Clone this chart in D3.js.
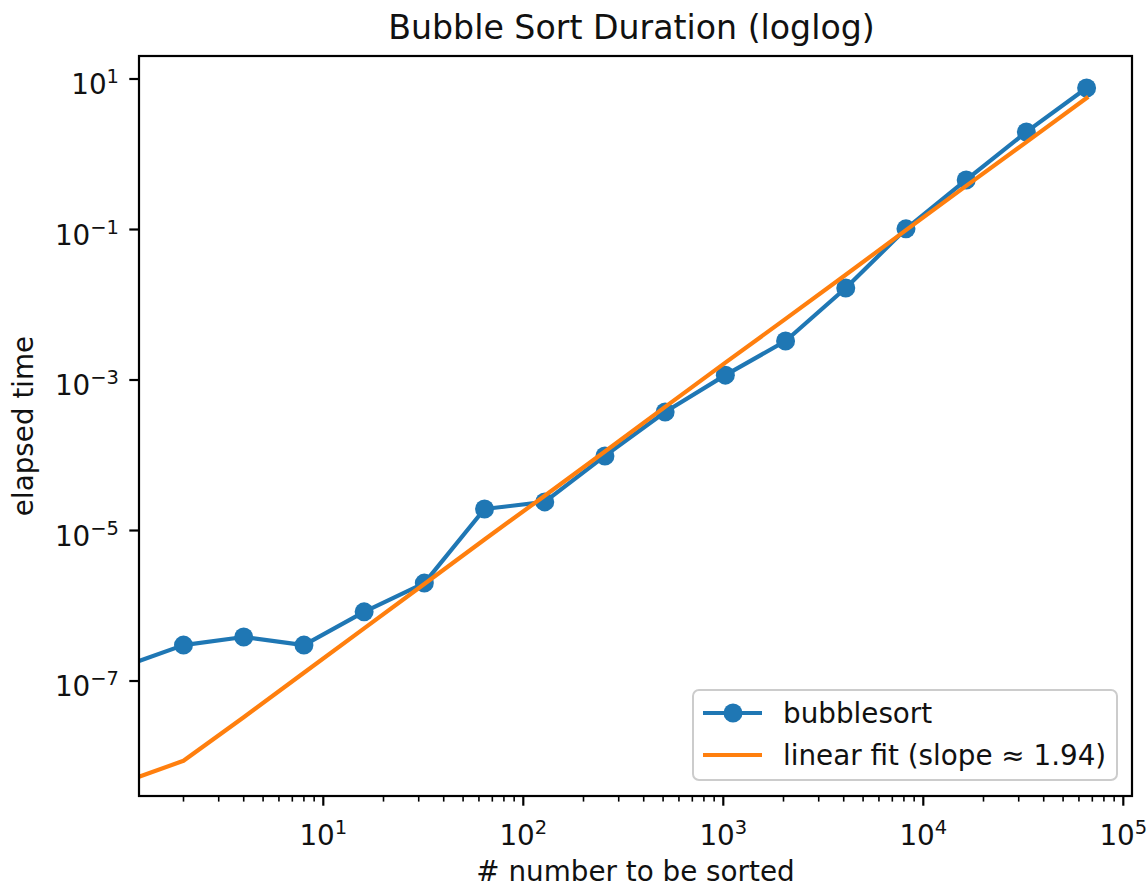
<!DOCTYPE html>
<html>
<head>
<meta charset="utf-8">
<script src="https://cdn.jsdelivr.net/npm/d3@7"></script>
<style>
  body { margin: 0; background: #fff; }
  text { font-family: "DejaVu Sans", sans-serif; fill: #111; }
</style>
</head>
<body>
<div id="chart"></div>
<script>
var width = 1147;
var height = 888;

// problem sizes (2^0 .. 2^16)
var sizes = [1, 2, 4, 8, 16, 32, 64, 128, 256, 512, 1024, 2048, 4096, 8192, 16384, 32768, 65536];
// measured elapsed time, seconds
var bubbleTimes = [1.55e-7, 3.0e-7, 3.85e-7, 3.0e-7, 8.3e-7, 2.0e-6, 1.93e-5, 2.4e-5, 9.8e-5,
                   3.76e-4, 1.16e-3, 3.3e-3, 1.67e-2, 0.102, 0.455, 1.98, 7.6];
// fitted line values
var fitTimes = [4.5e-9, 8.7e-9, 3.3e-8, 1.29e-7, 5.0e-7, 1.95e-6, 7.6e-6, 2.9e-5, 1.12e-4,
                4.4e-4, 1.7e-3, 6.5e-3, 2.5e-2, 9.8e-2, 0.38, 1.45, 5.6];
var xTickExps = [1, 2, 3, 4, 5];
var yTickExps = [1, -1, -3, -5, -7];
var seriesNames = ["bubblesort", "linear fit (slope \u2248 1.94)"];

var blue = "#1f77b4", orange = "#ff7f0e";
var axLeft = 139, axRight = 1132, axTop = 56, axBottom = 796;

var svg = d3.select("#chart").append("svg")
    .attr("width", width)
    .attr("height", height);

var x = d3.scaleLog()
    .domain([Math.pow(10, 0.0785), Math.pow(10, 5.0435)])
    .range([axLeft, axRight]);
var y = d3.scaleLog()
    .domain([Math.pow(10, -8.528), Math.pow(10, 1.3056)])
    .range([axBottom, axTop]);

svg.append("defs").append("clipPath")
    .attr("id", "clip")
    .append("rect")
    .attr("x", axLeft).attr("y", axTop)
    .attr("width", axRight - axLeft).attr("height", axBottom - axTop);

var plot = svg.append("g").attr("clip-path", "url(#clip)");

var line = d3.line()
    .x(function(d){ return x(d[0]); })
    .y(function(d){ return y(d[1]); });

plot.append("path")
    .datum(d3.zip(sizes, bubbleTimes))
    .attr("d", line)
    .attr("fill", "none")
    .attr("stroke", blue)
    .attr("stroke-width", 4.2)
    .attr("stroke-linejoin", "round")
    .attr("stroke-linecap", "square");

plot.selectAll("circle.pt")
    .data(d3.zip(sizes, bubbleTimes))
    .enter()
        .append("circle")
        .attr("class", "pt")
        .attr("cx", function(d){ return x(d[0]); })
        .attr("cy", function(d){ return y(d[1]); })
        .attr("r", 9.5)
        .attr("fill", blue);

plot.append("path")
    .datum(d3.zip(sizes, fitTimes))
    .attr("d", line)
    .attr("fill", "none")
    .attr("stroke", orange)
    .attr("stroke-width", 4.2)
    .attr("stroke-linejoin", "round")
    .attr("stroke-linecap", "square");

// x ticks: majors and minors
var xMinor = [];
for (var e = 0; e <= 5; e++) {
    for (var m = 2; m <= 9; m++) {
        var v = m * Math.pow(10, e);
        if (v > x.domain()[0] && v < x.domain()[1]) xMinor.push(v);
    }
}
svg.append("g").selectAll("line")
    .data(xMinor)
    .enter()
        .append("line")
        .attr("x1", function(d){ return x(d); })
        .attr("x2", function(d){ return x(d); })
        .attr("y1", axBottom)
        .attr("y2", axBottom + 5.6)
        .attr("stroke", "#000")
        .attr("stroke-width", 1.6);

var xTicks = svg.append("g").selectAll("g")
    .data(xTickExps)
    .enter()
        .append("g")
        .attr("transform", function(d){ return "translate(" + x(Math.pow(10, d)) + ",0)"; });
xTicks.append("line")
    .attr("y1", axBottom).attr("y2", axBottom + 9.7)
    .attr("stroke", "#000").attr("stroke-width", 2.2);
var xLab = xTicks.append("text")
    .attr("y", axBottom + 49)
    .attr("text-anchor", "middle")
    .style("font-size", "27.8px");
xLab.append("tspan").text("10");
xLab.append("tspan").attr("dy", -11).style("font-size", "19.5px")
    .text(function(d){ return d < 0 ? "\u2212" + (-d) : d; });

var yTicks = svg.append("g").selectAll("g")
    .data(yTickExps)
    .enter()
        .append("g")
        .attr("transform", function(d){ return "translate(0," + y(Math.pow(10, d)) + ")"; });
yTicks.append("line")
    .attr("x1", axLeft - 9.7).attr("x2", axLeft)
    .attr("stroke", "#000").attr("stroke-width", 2.2);
var yLab = yTicks.append("text")
    .attr("x", axLeft - 20)
    .attr("y", 15)
    .attr("text-anchor", "end")
    .style("font-size", "27.8px");
yLab.append("tspan").text("10");
yLab.append("tspan").attr("dy", -11).style("font-size", "19.5px")
    .text(function(d){ return d < 0 ? "\u2212" + (-d) : d; });

// frame
svg.append("rect")
    .attr("x", axLeft).attr("y", axTop)
    .attr("width", axRight - axLeft).attr("height", axBottom - axTop)
    .attr("fill", "none")
    .attr("stroke", "#000")
    .attr("stroke-width", 2.2);

// titles
svg.append("text")
    .attr("x", (axLeft + axRight) / 2 - 4)
    .attr("y", 39)
    .attr("text-anchor", "middle")
    .style("font-size", "33.2px")
    .text("Bubble Sort Duration (loglog)");

svg.append("text")
    .attr("x", (axLeft + axRight) / 2)
    .attr("y", 881)
    .attr("text-anchor", "middle")
    .style("font-size", "27.8px")
    .text("# number to be sorted");

svg.append("text")
    .attr("transform", "translate(33," + ((axTop + axBottom) / 2) + ") rotate(-90)")
    .attr("text-anchor", "middle")
    .style("font-size", "27.8px")
    .text("elapsed time");

// legend
var legend = svg.append("g").attr("transform", "translate(693,690)");
legend.append("rect")
    .attr("width", 424).attr("height", 90)
    .attr("rx", 6)
    .attr("fill", "#fff").attr("fill-opacity", 0.8)
    .attr("stroke", "#cccccc").attr("stroke-width", 2);

var rows = legend.selectAll("g.row")
    .data(seriesNames)
    .enter()
        .append("g")
        .attr("class", "row")
        .attr("transform", function(d,i){ return "translate(0," + (23 + i * 42) + ")"; });
rows.append("line")
    .attr("x1", 10).attr("x2", 69)
    .attr("stroke", function(d,i){ return i === 0 ? blue : orange; })
    .attr("stroke-width", 4.2);
rows.filter(function(d,i){ return i === 0; })
    .append("circle")
    .attr("cx", 40).attr("r", 9.5).attr("fill", blue);
rows.append("text")
    .attr("x", 90).attr("y", 10)
    .style("font-size", "27.8px")
    .text(function(d){ return d; });
</script>
</body>
</html>
